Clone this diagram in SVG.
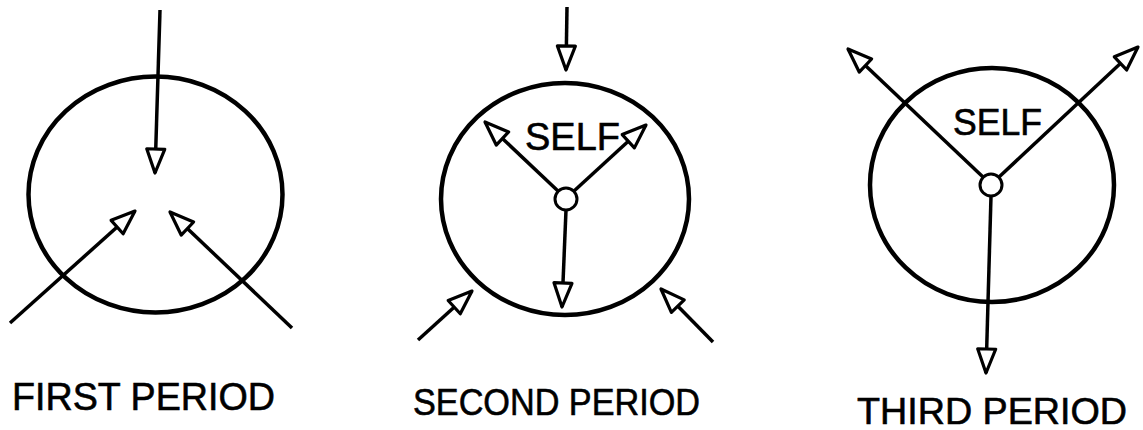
<svg xmlns="http://www.w3.org/2000/svg" width="1143" height="430" viewBox="0 0 1143 430">
<style>
.ring{fill:none;stroke:#000;stroke-width:4.5}
.hub{fill:#fff;stroke:#000;stroke-width:3}
.arr{fill:none;stroke:#000;stroke-width:3.5;marker-end:url(#open)}
.lbl{font-family:"Liberation Sans",Arial,sans-serif;fill:#000;stroke:#000;stroke-width:0.6}
</style>
<defs>
<marker id="open" markerUnits="userSpaceOnUse" viewBox="-30 -14 34 28" markerWidth="34" markerHeight="28" refX="0" refY="0" orient="auto">
<path d="M0,0 L-24,-9 L-24,9 Z" fill="#fff" stroke="#000" stroke-width="3.2" stroke-linejoin="round"/>
</marker>
</defs>
<rect width="1143" height="430" fill="#fff"/>

<g id="first-period">
<ellipse class="ring" cx="155.5" cy="194.5" rx="127" ry="118"/>
<text class="lbl" x="12" y="410" font-size="39" textLength="263" lengthAdjust="spacingAndGlyphs">FIRST PERIOD</text>
</g>

<g id="second-period">
<ellipse class="ring" cx="565" cy="199" rx="124" ry="116"/>
<circle class="hub" cx="566" cy="199" r="11"/>
<text class="lbl" x="525" y="150" font-size="38" textLength="95" lengthAdjust="spacingAndGlyphs">SELF</text>
<text class="lbl" x="413" y="415" font-size="37" textLength="287" lengthAdjust="spacingAndGlyphs">SECOND PERIOD</text>
</g>

<g id="third-period">
<ellipse class="ring" cx="992" cy="185" rx="122" ry="117"/>
<circle class="hub" cx="991" cy="185" r="11"/>
<text class="lbl" x="953" y="135" font-size="36" textLength="89" lengthAdjust="spacingAndGlyphs">SELF</text>
<text class="lbl" x="857" y="424" font-size="37" textLength="270" lengthAdjust="spacingAndGlyphs">THIRD PERIOD</text>
</g>

<g id="connectors">
<line class="arr" x1="160" y1="10" x2="155" y2="173"/>
<line class="arr" x1="10" y1="323" x2="135" y2="211"/>
<line class="arr" x1="292" y1="328" x2="170" y2="212"/>

<line class="arr" x1="567" y1="7" x2="566" y2="70"/>
<line class="arr" x1="558" y1="191" x2="485" y2="122"/>
<line class="arr" x1="574" y1="191" x2="646" y2="125"/>
<line class="arr" x1="566" y1="210" x2="562" y2="307"/>
<line class="arr" x1="418" y1="340" x2="472" y2="291"/>
<line class="arr" x1="713" y1="342" x2="661" y2="289"/>

<line class="arr" x1="983" y1="177" x2="848" y2="49"/>
<line class="arr" x1="999" y1="177" x2="1138" y2="47"/>
<line class="arr" x1="991" y1="196" x2="986" y2="373"/>
</g>
</svg>
